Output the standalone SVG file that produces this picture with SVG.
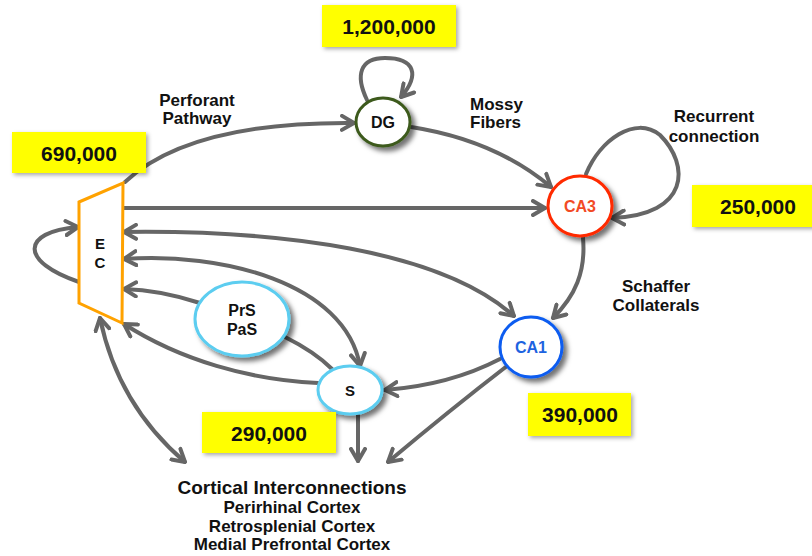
<svg xmlns="http://www.w3.org/2000/svg" width="812" height="556" viewBox="0 0 812 556">
<style>
text{font-family:"Liberation Sans",Arial,sans-serif;font-weight:bold;fill:#111}
.c{fill:none;stroke:#666;stroke-width:4;stroke-linecap:round}
.box{fill:#ffff00;filter:url(#bs)}
.num{font-size:21px;text-anchor:middle}
.lbl{font-size:17px;text-anchor:middle}
.node{fill:#fff;stroke-width:3;filter:url(#ns)}
.nl{font-size:16px;text-anchor:middle}
.sub{font-size:17px;text-anchor:middle}
</style>
<defs>
<filter id="ns" x="-30%" y="-30%" width="170%" height="170%"><feDropShadow dx="4" dy="4" stdDeviation="2.5" flood-color="#000" flood-opacity="0.55"/></filter>
<filter id="bs" x="-10%" y="-20%" width="130%" height="150%"><feDropShadow dx="2" dy="2" stdDeviation="2" flood-color="#000" flood-opacity="0.35"/></filter>
<marker id="a" viewBox="0 0 16 18" refX="14" refY="9" markerWidth="16" markerHeight="18" markerUnits="userSpaceOnUse" orient="auto-start-reverse">
<path d="M2,2 L14,9 L2,16" fill="none" stroke="#666" stroke-width="4" stroke-linecap="round" stroke-linejoin="round"/>
</marker>
</defs>
<g id="connectors">
<path class="c" d="M125,182 C170,140 250,122 354,123" marker-end="url(#a)"/>
<path class="c" d="M367,100 C355,75 360,58 385,58 C415,58 420,75 401,97" marker-end="url(#a)"/>
<path class="c" d="M411,127 Q495,140 551,187" marker-end="url(#a)"/>
<path class="c" d="M123,208 L545,208" marker-end="url(#a)"/>
<path class="c" d="M586,174 C600,140 635,115 660,135 C690,165 690,215 612,218" marker-end="url(#a)"/>
<path class="c" d="M583,238 C586,272 575,296 553,318" marker-end="url(#a)"/>
<path class="c" d="M79,282 C20,262 20,232 78,227" marker-end="url(#a)"/>
<path class="c" d="M124,232 C280,230 440,250 514,316" marker-start="url(#a)" marker-end="url(#a)"/>
<path class="c" d="M124,259 C220,252 345,282 360,366" marker-start="url(#a)" marker-end="url(#a)"/>
<path class="c" d="M200,303 Q160,290 124,289" marker-end="url(#a)"/>
<path class="c" d="M285,337 Q315,352 332,369"/>
<path class="c" d="M318,383 C250,380 180,360 124,324" marker-end="url(#a)"/>
<path class="c" d="M100,318 Q118,405 185,462" marker-start="url(#a)" marker-end="url(#a)"/>
<path class="c" d="M500,359 Q450,385 385,390" marker-end="url(#a)"/>
<path class="c" d="M507,366 Q450,410 388,462" marker-end="url(#a)"/>
<path class="c" d="M358,415 L358,461" marker-end="url(#a)"/>
</g>
<g id="EC">
<polygon points="79,202 123,183 122,323 79,303" fill="#fff" stroke="#ffa200" stroke-width="3" stroke-linejoin="miter"/>
<text x="100" y="249" font-size="15px" text-anchor="middle">E</text>
<text x="100" y="268" font-size="15px" text-anchor="middle">C</text>
</g>
<g id="DG">
<ellipse class="node" cx="383" cy="122" rx="27" ry="24" stroke="#3d5a1e"/>
<text class="nl" x="383" y="128">DG</text>
</g>
<g id="CA3">
<ellipse class="node" cx="580" cy="206" rx="32" ry="30" stroke="#ff2a00"/>
<text class="nl" x="580" y="212" style="fill:#f24a25">CA3</text>
</g>
<g id="CA1">
<ellipse class="node" cx="531" cy="347" rx="31" ry="30" stroke="#0a5cf0"/>
<text class="nl" x="531" y="353" style="fill:#1d63e0">CA1</text>
</g>
<g id="PrS">
<ellipse class="node" cx="242" cy="319" rx="47" ry="37" stroke="#5ccdf0"/>
<text class="nl" x="242" y="316">PrS</text>
<text class="nl" x="242" y="335">PaS</text>
</g>
<g id="S">
<ellipse class="node" cx="350" cy="390" rx="32" ry="24" stroke="#5ccdf0"/>
<text class="nl" x="350" y="396" style="font-size:15px">S</text>
</g>
<g id="counts">
<rect class="box" x="322" y="5" width="134" height="42"/>
<text class="num" x="389" y="34">1,200,000</text>
<rect class="box" x="12" y="132" width="134" height="41"/>
<text class="num" x="79" y="161">690,000</text>
<rect class="box" x="692" y="185" width="125" height="42"/>
<text class="num" x="758" y="214">250,000</text>
<rect class="box" x="528" y="393" width="103" height="43"/>
<text class="num" x="580" y="422">390,000</text>
<rect class="box" x="202" y="412" width="134" height="41"/>
<text class="num" x="269" y="441">290,000</text>
</g>
<g id="labels">
<text class="lbl" x="197" y="106">Perforant</text>
<text class="lbl" x="197" y="124">Pathway</text>
<text class="lbl" x="470" y="110" style="text-anchor:start">Mossy</text>
<text class="lbl" x="470" y="128" style="text-anchor:start">Fibers</text>
<text class="lbl" x="714" y="122">Recurrent</text>
<text class="lbl" x="714" y="142">connection</text>
<text class="lbl" x="656" y="292">Schaffer</text>
<text class="lbl" x="656" y="311">Collaterals</text>
<text x="292" y="494" font-size="19px" text-anchor="middle">Cortical Interconnections</text>
<text class="sub" x="292" y="513">Perirhinal Cortex</text>
<text class="sub" x="292" y="532">Retrosplenial Cortex</text>
<text class="sub" x="292" y="550">Medial Prefrontal Cortex</text>
</g>
</svg>
